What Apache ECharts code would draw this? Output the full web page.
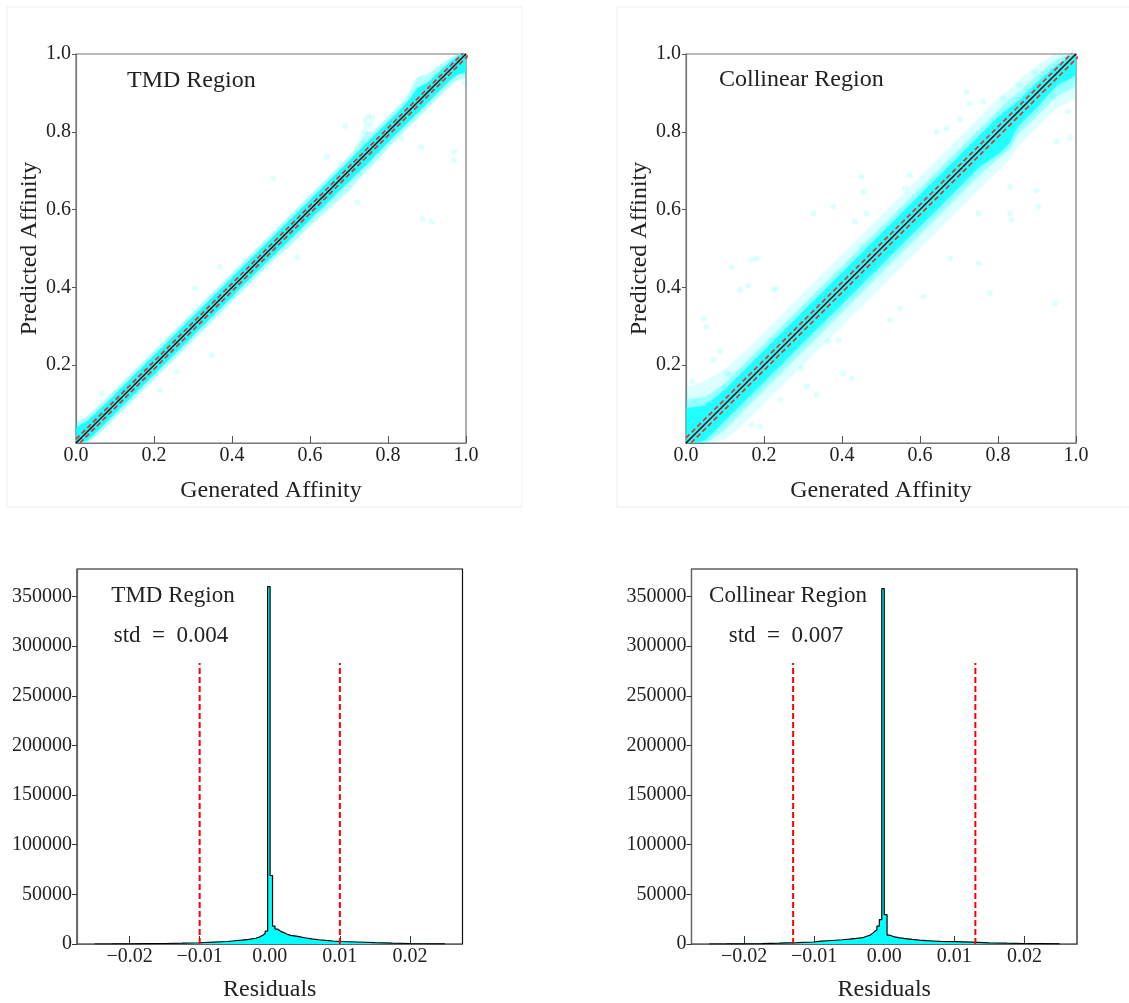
<!DOCTYPE html>
<html>
<head>
<meta charset="utf-8">
<script src="https://cdn.jsdelivr.net/npm/echarts@6/dist/echarts.min.js"></script>
<style>html,body{margin:0;padding:0;background:#fff}#c{width:1129px;height:1003px}</style>
</head>
<body>
<div id="c"></div>
<script>
// ---------- DATA ----------
const scatterTicks = [0, 0.2, 0.4, 0.6, 0.8, 1.0];
const scatterYTicks = [0.2, 0.4, 0.6, 0.8, 1.0];
const histXTicks = [-0.02, -0.01, 0, 0.01, 0.02];
const histYTicks = [0, 50000, 100000, 150000, 200000, 250000, 300000, 350000];

// TMD scatter: dense band (outer halo and core), estimated edges
const tmdBandX   = [0.00, 0.03, 0.10, 0.20, 0.30, 0.40, 0.50, 0.55, 0.60, 0.65, 0.70, 0.73, 0.745, 0.76, 0.80, 0.84, 0.86, 0.875, 0.90, 0.93, 0.96, 0.98, 1.00];
const tmdOuterHi = [0.05, 0.07, 0.137, 0.237, 0.337, 0.437, 0.537, 0.587, 0.637, 0.687, 0.738, 0.775, 0.80, 0.80, 0.84, 0.88, 0.912, 0.94, 0.948, 0.97, 0.99, 1.0, 1.0];
const tmdOuterLo = [0.0, 0.0, 0.063, 0.163, 0.263, 0.363, 0.463, 0.508, 0.558, 0.603, 0.648, 0.683, 0.698, 0.713, 0.758, 0.798, 0.818, 0.833, 0.858, 0.888, 0.918, 0.933, 0.94];
const tmdCoreHi  = [0.038, 0.058, 0.125, 0.225, 0.325, 0.425, 0.525, 0.575, 0.625, 0.675, 0.725, 0.756, 0.772, 0.786, 0.826, 0.866, 0.89, 0.912, 0.925, 0.953, 0.98, 0.995, 1.0];
const tmdCoreLo  = [0.0, 0.008, 0.076, 0.176, 0.276, 0.376, 0.476, 0.524, 0.574, 0.623, 0.672, 0.701, 0.716, 0.731, 0.773, 0.813, 0.833, 0.848, 0.873, 0.903, 0.933, 0.948, 0.953];
const tmdOutliers = [[0.970,0.749],[0.969,0.727],[0.885,0.760],[0.888,0.576],[0.912,0.569],[0.690,0.815],[0.721,0.618],[0.567,0.477],[0.506,0.680],[0.348,0.226],[0.305,0.397],[0.258,0.184],[0.215,0.136],[0.066,0.128],[0.369,0.453],[0.643,0.736],[0.835,0.783],[0.997,0.925],[0.735,0.78],[0.74,0.80],[0.742,0.83],[0.75,0.84],[0.745,0.815],[0.755,0.82],[0.73,0.77],[0.76,0.835]];

// Collinear scatter band (outer, mid, core)
const colBandX   = [0.00, 0.02, 0.05, 0.10, 0.15, 0.20, 0.25, 0.30, 0.35, 0.40, 0.45, 0.50, 0.55, 0.60, 0.65, 0.70, 0.75, 0.80, 0.83, 0.85, 0.90, 0.95, 1.00];
const colOuterHi = [0.14, 0.15, 0.16, 0.19, 0.235, 0.285, 0.335, 0.385, 0.435, 0.485, 0.535, 0.585, 0.635, 0.685, 0.735, 0.785, 0.835, 0.885, 0.91, 0.93, 0.97, 1.0, 1.0];
const colOuterLo = [0.0, 0.0, 0.0, 0.01, 0.05, 0.10, 0.15, 0.20, 0.25, 0.30, 0.35, 0.40, 0.45, 0.50, 0.55, 0.60, 0.65, 0.70, 0.73, 0.76, 0.81, 0.86, 0.89];
const colMidHi   = [0.11, 0.115, 0.12, 0.155, 0.205, 0.255, 0.305, 0.355, 0.405, 0.455, 0.505, 0.555, 0.605, 0.655, 0.705, 0.755, 0.805, 0.855, 0.885, 0.90, 0.945, 0.985, 1.0];
const colMidLo   = [0.0, 0.0, 0.0, 0.035, 0.085, 0.135, 0.185, 0.235, 0.285, 0.335, 0.385, 0.435, 0.485, 0.535, 0.585, 0.635, 0.685, 0.73, 0.755, 0.79, 0.84, 0.89, 0.92];
const colCoreHi  = [0.088, 0.092, 0.098, 0.138, 0.188, 0.238, 0.288, 0.338, 0.388, 0.438, 0.488, 0.538, 0.588, 0.638, 0.688, 0.738, 0.788, 0.838, 0.862, 0.877, 0.926, 0.97, 1.0];
const colCoreLo  = [0.0, 0.0, 0.008, 0.057, 0.107, 0.157, 0.207, 0.257, 0.307, 0.357, 0.407, 0.457, 0.507, 0.557, 0.607, 0.657, 0.707, 0.742, 0.772, 0.812, 0.862, 0.918, 0.948];
const colOutliers = [[0.946,0.359],[0.903,0.608],[0.899,0.650],[0.950,0.775],[0.980,0.852],[0.985,0.784],[0.831,0.659],[0.831,0.590],[0.835,0.573],[0.779,0.385],[0.750,0.590],[0.750,0.462],[0.719,0.903],[0.677,0.475],[0.609,0.376],[0.549,0.346],[0.643,0.800],[0.668,0.809],[0.574,0.689],[0.562,0.655],[0.450,0.685],[0.455,0.646],[0.378,0.608],[0.327,0.590],[0.463,0.590],[0.433,0.569],[0.450,0.505],[0.403,0.179],[0.425,0.166],[0.391,0.265],[0.365,0.261],[0.335,0.333],[0.301,0.316],[0.224,0.393],[0.232,0.397],[0.168,0.470],[0.181,0.475],[0.160,0.405],[0.139,0.393],[0.117,0.452],[0.045,0.320],[0.053,0.299],[0.015,0.158],[0.023,0.106],[0.104,0.179],[0.070,0.214],[0.087,0.236],[0.113,0.175],[0.190,0.042],[0.168,0.046],[0.241,0.111],[0.310,0.145],[0.335,0.124],[0.297,0.192],[0.523,0.316],[0.728,0.873],[0.762,0.877],[0.814,0.886],[0.856,0.920],[0.895,0.954],[0.942,0.889],[0.703,0.833]];

// Threshold lines (±) from the residual plots
const tmdThreshold = 0.010;
const colThreshold = 0.013;
const redLineTop = 283000;

// Histograms: bin left edges, counts, and final right edge
const tmdEdges  = [-0.025,-0.0225,-0.02,-0.0175,-0.015,-0.0125,-0.01,-0.008,-0.006,-0.005,-0.004,-0.003,-0.002,-0.0014,-0.001,-0.00065,-0.0003,0.00005,0.0004,0.00075,0.0011,0.0015,0.002,0.0025,0.003,0.004,0.005,0.006,0.007,0.008,0.009,0.01,0.0125,0.015,0.0175,0.02,0.0225];
const tmdCounts = [60,150,320,520,820,1250,1850,2500,3300,3900,4700,5800,7200,8800,10500,13000,360000,69000,18000,15000,13000,11500,9800,8700,7700,6300,5200,4300,3600,3000,2500,2000,1300,800,500,250,100];
const tmdEnd = 0.025;
const colEdges  = [-0.025,-0.0225,-0.02,-0.0175,-0.015,-0.0125,-0.01,-0.009,-0.008,-0.007,-0.006,-0.005,-0.004,-0.003,-0.0025,-0.002,-0.0017,-0.0014,-0.00105,-0.0007,-0.00035,0,0.0004,0.00075,0.0011,0.0015,0.002,0.003,0.004,0.005,0.006,0.007,0.008,0.01,0.0125,0.015,0.0175,0.02,0.0225];
const colCounts = [60,200,450,800,1300,2000,2800,3300,3800,4300,4900,5600,6500,7800,9000,10500,12500,14000,18000,24500,358000,29500,9000,8000,7200,6400,5500,4600,3900,3400,3000,2600,2300,1800,1200,800,500,300,100];
const colEnd = 0.025;

// ---------- CHART ----------
const FONT = '"Liberation Serif", "Times New Roman", serif';
const TXT = '#222';
const chart = echarts.init(document.getElementById('c'), null, {renderer: 'canvas'});

function band(idx, xs, lo, hi, color, blur) {
  return {
    type: 'custom', xAxisIndex: idx, yAxisIndex: idx, clip: true, silent: true,
    data: [[0.5, 0.5]],
    renderItem: function (params, api) {
      const pts = [];
      for (let i = 0; i < xs.length; i++) pts.push(api.coord([xs[i], hi[i]]));
      for (let i = xs.length - 1; i >= 0; i--) pts.push(api.coord([xs[i], lo[i]]));
      return { type: 'polygon', shape: { points: pts, smooth: 0.2 },
        style: { fill: color, stroke: null, shadowBlur: blur || 0, shadowColor: color } };
    }
  };
}
function lineS(idx, data, style, z) {
  return { type: 'line', xAxisIndex: idx, yAxisIndex: idx, data: data, symbol: 'none', silent: true,
    clip: true, lineStyle: style, z: z || 3, animation: false };
}
function scatterSeries(idx, pts) {
  return { type: 'scatter', xAxisIndex: idx, yAxisIndex: idx, data: pts, symbolSize: 6, silent: true,
    itemStyle: { color: 'rgba(0,255,255,0.16)' } };
}
function histData(edges, counts, end) {
  const d = [[edges[0], 0]];
  for (let i = 0; i < edges.length; i++) d.push([edges[i], counts[i]]);
  d.push([end, 0]);
  return d;
}
function sx(idx, name) {
  return {
    gridIndex: idx, type: 'value', min: 0, max: 1,
    splitLine: { show: false },
    axisLine: { show: true, onZero: false, lineStyle: { color: '#777', width: 1.2 } },
    axisTick: { show: true, inside: true, length: 7, customValues: scatterTicks, lineStyle: { color: '#555', width: 1 } },
    axisLabel: { customValues: scatterTicks, formatter: v => v.toFixed(1), fontSize: 20, fontFamily: FONT, color: TXT, margin: 3 },
    name: name, nameLocation: 'middle', nameGap: 36,
    nameTextStyle: { fontSize: 24, fontFamily: FONT, color: TXT }
  };
}
function sy(idx, name) {
  return {
    gridIndex: idx, type: 'value', min: 0, max: 1,
    splitLine: { show: false },
    axisLine: { show: true, onZero: false, lineStyle: { color: '#777', width: 1.2 } },
    axisTick: { show: true, inside: false, length: 4, customValues: scatterYTicks, lineStyle: { color: '#555', width: 1 } },
    axisLabel: { customValues: scatterYTicks, formatter: v => v.toFixed(1), fontSize: 20, fontFamily: FONT, color: TXT, margin: 5 },
    name: name, nameLocation: 'middle', nameGap: 27,
    nameTextStyle: { fontSize: 24, fontFamily: FONT, color: TXT }
  };
}
function hx(idx) {
  return {
    gridIndex: idx, type: 'value', min: -0.0275, max: 0.0275,
    splitLine: { show: false },
    axisLine: { show: true, onZero: false, lineStyle: { color: '#666', width: 1.2 } },
    axisTick: { show: true, inside: true, length: 8, customValues: histXTicks, lineStyle: { color: '#333', width: 1 } },
    axisLabel: { customValues: histXTicks, formatter: v => (v < 0 ? '\u2212' : '') + Math.abs(v).toFixed(2), fontSize: 20, fontFamily: FONT, color: TXT, margin: 3 },
    name: 'Residuals', nameLocation: 'middle', nameGap: 34,
    nameTextStyle: { fontSize: 24, fontFamily: FONT, color: TXT }
  };
}
function hy(idx) {
  return {
    gridIndex: idx, type: 'value', min: 0, max: 377700,
    splitLine: { show: false },
    axisLine: { show: true, onZero: false, lineStyle: { color: '#666', width: 1.2 } },
    axisTick: { show: true, inside: false, length: 5, customValues: histYTicks, lineStyle: { color: '#333', width: 1 } },
    axisLabel: { customValues: histYTicks, formatter: v => String(v), fontSize: 20, fontFamily: FONT, color: TXT, margin: 5 }
  };
}
function txt(x, y, s, size, align) {
  return { type: 'text', x: x, y: y, z: 100,
    style: { text: s, font: size + 'px ' + FONT, fill: TXT, textAlign: align || 'left', textVerticalAlign: 'middle', align: align || 'left', verticalAlign: 'middle' } };
}

const redScatter = { color: '#f02828', width: 1.7, type: [5, 3] };
const redHist = { color: '#ff0000', width: 2, type: [6, 3] };
const blackDiag = { color: '#000', width: 1.5 };

const option = {
  animation: false,
  backgroundColor: '#fff',
  grid: [
    { left: 76, top: 54, width: 390, height: 389, show: true, borderColor: '#777', borderWidth: 1.2, backgroundColor: 'transparent' },
    { left: 686, top: 54, width: 390, height: 389, show: true, borderColor: '#777', borderWidth: 1.2, backgroundColor: 'transparent' },
    { left: 77, top: 569, width: 385.5, height: 375, show: true, borderColor: '#111', borderWidth: 1.2, backgroundColor: 'transparent' },
    { left: 691.5, top: 569, width: 385.5, height: 375, show: true, borderColor: '#111', borderWidth: 1.2, backgroundColor: 'transparent' }
  ],
  xAxis: [sx(0, 'Generated Affinity'), sx(1, 'Generated Affinity'), hx(2), hx(3)],
  yAxis: [sy(0, 'Predicted Affinity'), sy(1, 'Predicted Affinity'), hy(2), hy(3)],
  graphic: [
    { type: 'rect', shape: { x: 7, y: 7, width: 515, height: 500 }, style: { fill: 'none', stroke: '#eeeeee', lineWidth: 1 }, z: -1 },
    { type: 'rect', shape: { x: 617, y: 7, width: 530, height: 500 }, style: { fill: 'none', stroke: '#eeeeee', lineWidth: 1 }, z: -1 },
    txt(127, 81, 'TMD Region', 24),
    txt(719, 80, 'Collinear Region', 24),
    txt(173, 596, 'TMD Region', 23, 'center'),
    txt(171, 636, 'std\u2002=\u20020.004', 23, 'center'),
    txt(788, 596, 'Collinear Region', 23, 'center'),
    txt(786, 636, 'std\u2002=\u20020.007', 23, 'center')
  ],
  series: [
    // TMD scatter
    band(0, tmdBandX, tmdOuterLo, tmdOuterHi, 'rgba(0,255,255,0.25)', 6),
    band(0, tmdBandX, tmdCoreLo, tmdCoreHi, 'rgba(0,255,255,0.72)', 3),
    scatterSeries(0, tmdOutliers),
    lineS(0, [[0, 0], [1, 1]], blackDiag, 5),
    lineS(0, [[0, tmdThreshold], [1, 1 + tmdThreshold]], redScatter, 4),
    lineS(0, [[tmdThreshold, 0], [1 + tmdThreshold, 1]], redScatter, 4),
    // Collinear scatter
    band(1, colBandX, colOuterLo, colOuterHi, 'rgba(0,255,255,0.12)', 8),
    band(1, colBandX, colMidLo, colMidHi, 'rgba(0,255,255,0.25)', 6),
    band(1, colBandX, colCoreLo, colCoreHi, 'rgba(0,255,255,0.65)', 4),
    scatterSeries(1, colOutliers),
    lineS(1, [[0, 0], [1, 1]], blackDiag, 5),
    lineS(1, [[0, colThreshold], [1, 1 + colThreshold]], redScatter, 4),
    lineS(1, [[colThreshold, 0], [1 + colThreshold, 1]], redScatter, 4),
    // TMD histogram
    Object.assign(lineS(2, histData(tmdEdges, tmdCounts, tmdEnd), { color: '#000', width: 1.2 }, 2),
      { step: 'end', areaStyle: { color: '#00ffff', opacity: 1 } }),
    lineS(2, [[-tmdThreshold, 0], [-tmdThreshold, redLineTop]], redHist, 6),
    lineS(2, [[tmdThreshold, 0], [tmdThreshold, redLineTop]], redHist, 6),
    // Collinear histogram
    Object.assign(lineS(3, histData(colEdges, colCounts, colEnd), { color: '#000', width: 1.2 }, 2),
      { step: 'end', areaStyle: { color: '#00ffff', opacity: 1 } }),
    lineS(3, [[-colThreshold, 0], [-colThreshold, redLineTop]], redHist, 6),
    lineS(3, [[colThreshold, 0], [colThreshold, redLineTop]], redHist, 6)
  ]
};
chart.setOption(option);
</script>
</body>
</html>
